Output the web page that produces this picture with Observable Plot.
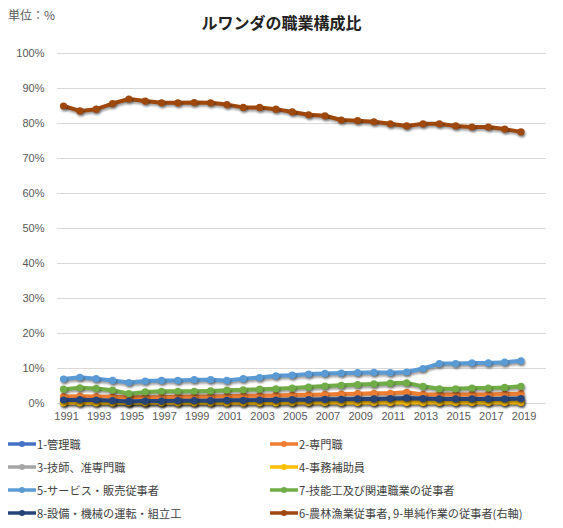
<!DOCTYPE html>
<html>
<head>
<meta charset="utf-8">
<script src="https://cdn.jsdelivr.net/npm/d3@7"></script>
<script src="https://cdn.jsdelivr.net/npm/@observablehq/plot@0.6"></script>
<style>
  html, body { margin: 0; padding: 0; background: #fff; }
  #wrap { position: relative; width: 563px; height: 528px; overflow: hidden; font-family: "Noto Sans CJK JP", "Liberation Sans", sans-serif; }
  #unit { position: absolute; left: 8px; top: 6px; font-size: 12px; color: #595959; }
  #title { position: absolute; left: 0; width: 563px; top: 10px; text-align: center; font-size: 16px; font-weight: bold; color: #222; }
  #chart { position: absolute; left: 0; top: 40px; }
  #legend { position: absolute; left: 0; top: 432px; width: 563px; }
  .item { position: absolute; display: flex; align-items: center; height: 23px; font-size: 11.2px; color: #404040; white-space: nowrap; }
  .item svg { margin-right: 1px; }
  #chart g[aria-label="line"], #chart g[aria-label="dot"] { filter: drop-shadow(1px 2px 1.3px rgba(0,0,0,0.38)); }
</style>
</head>
<body>
<div id="wrap">
  <div id="unit">単位：%</div>
  <div id="title">ルワンダの職業構成比</div>
  <div id="chart"></div>
  <div id="legend"></div>
</div>
<script>
// ---- data ----
const years = [1991,1992,1993,1994,1995,1996,1997,1998,1999,2000,2001,2002,2003,2004,2005,2006,2007,2008,2009,2010,2011,2012,2013,2014,2015,2016,2017,2018,2019];
const xTickYears = [1991,1993,1995,1997,1999,2001,2003,2005,2007,2009,2011,2013,2015,2017,2019];
const yTicks = [0,10,20,30,40,50,60,70,80,90,100];

const managers      = [0.3,0.3,0.3,0.3,0.2,0.2,0.3,0.3,0.3,0.3,0.3,0.3,0.3,0.3,0.3,0.4,0.4,0.4,0.4,0.4,0.4,0.4,0.4,0.4,0.4,0.4,0.4,0.4,0.4];
const professionals = [2.0,2.1,2.0,1.9,1.7,1.8,1.8,1.9,1.9,2.0,2.1,2.2,2.2,2.3,2.4,2.5,2.6,2.7,2.8,2.9,2.9,3.2,2.6,2.6,2.6,2.6,2.6,2.7,2.8];
const technicians   = [0.8,0.9,0.8,0.7,0.5,0.6,0.6,0.7,0.7,0.7,0.8,0.8,0.9,0.9,1.0,1.0,1.1,1.1,1.2,1.2,1.3,1.4,1.3,1.2,1.2,1.2,1.2,1.2,1.3];
const clerical      = [0.2,0.2,0.2,0.2,0.2,0.2,0.2,0.2,0.2,0.2,0.2,0.2,0.2,0.2,0.3,0.3,0.3,0.3,0.3,0.3,0.3,0.3,0.3,0.3,0.3,0.3,0.3,0.3,0.3];
const service       = [7.0,7.5,7.1,6.6,6.0,6.4,6.6,6.6,6.8,6.8,6.6,7.1,7.4,7.9,8.1,8.4,8.6,8.7,8.8,8.9,8.8,9.0,10.0,11.4,11.4,11.6,11.6,11.8,12.2];
const craft         = [4.1,4.5,4.3,3.8,2.8,3.3,3.5,3.5,3.5,3.6,3.8,3.9,4.1,4.2,4.4,4.7,5.0,5.2,5.4,5.6,5.8,5.9,4.9,4.2,4.2,4.4,4.4,4.6,4.9];
const operators     = [1.0,1.1,1.0,0.8,0.6,0.7,0.7,0.8,0.8,0.8,0.9,0.9,1.0,1.0,1.1,1.1,1.2,1.2,1.3,1.3,1.4,1.6,1.4,1.3,1.3,1.3,1.3,1.3,1.4];
const agriElementary= [85.0,83.6,84.1,85.7,87.0,86.4,85.9,85.9,86.0,85.9,85.4,84.6,84.6,84.1,83.3,82.5,82.2,81.0,80.8,80.5,79.9,79.3,79.9,79.9,79.3,79.0,79.0,78.4,77.6];

const seriesNames = ["1-管理職","2-専門職","3-技師、准専門職","4-事務補助員","5-サービス・販売従事者","7-技能工及び関連職業の従事者","8-設備・機械の運転・組立工","6-農林漁業従事者, 9-単純作業の従事者(右軸)"];
const seriesValues = [managers, professionals, technicians, clerical, service, craft, operators, agriElementary];
const seriesColors = ["#4472C4","#ED7D31","#A5A5A5","#FFC000","#5B9BD5","#70AD47","#264478","#9E480E"];

// ---- build marks ----
const marks = [
  Plot.gridY(yTicks, {stroke: "#d9d9d9", strokeOpacity: 1}),
  Plot.axisY(yTicks, {label: null, tickSize: 0, tickPadding: 13, tickFormat: d => d + "%", fontSize: 11, fill: "#595959", fontFamily: "Liberation Sans, Arial, sans-serif"}),
  Plot.axisX(xTickYears, {label: null, tickSize: 0, tickPadding: 9, tickFormat: d => String(d), fontSize: 11, fill: "#595959", fontFamily: "Liberation Sans, Arial, sans-serif", dx: 3})
];
seriesNames.forEach((name, i) => {
  const rows = years.map((yr, j) => ({year: yr, value: seriesValues[i][j], series: name}));
  marks.push(Plot.line(rows, {x: "year", y: "value", stroke: seriesColors[i], strokeWidth: 4, curve: "linear"}));
  marks.push(Plot.dot(rows, {x: "year", y: "value", fill: seriesColors[i], r: 3.6}));
});

const chart = Plot.plot({
  width: 563,
  height: 395,
  marginLeft: 57,
  marginRight: 17,
  marginTop: 13,
  marginBottom: 32,
  x: {type: "linear", domain: [1990.63, 2020.56], label: null},
  y: {domain: [0, 100], label: null},
  style: {background: "transparent", overflow: "visible"},
  marks
});
document.getElementById("chart").appendChild(chart);

// ---- legend ----
const legend = document.getElementById("legend");
seriesNames.forEach((name, i) => {
  const col = i % 2, row = Math.floor(i / 2);
  const div = document.createElement("div");
  div.className = "item";
  div.style.left = (col === 0 ? 8 : 270) + "px";
  div.style.top = (row * 23.3) + "px";
  div.innerHTML = `<svg width="28" height="10"><line x1="0" y1="5" x2="28" y2="5" stroke="${seriesColors[i]}" stroke-width="3.5"/><circle cx="14" cy="5" r="3" fill="${seriesColors[i]}"/></svg><span>${name}</span>`;
  legend.appendChild(div);
});
</script>
</body>
</html>
